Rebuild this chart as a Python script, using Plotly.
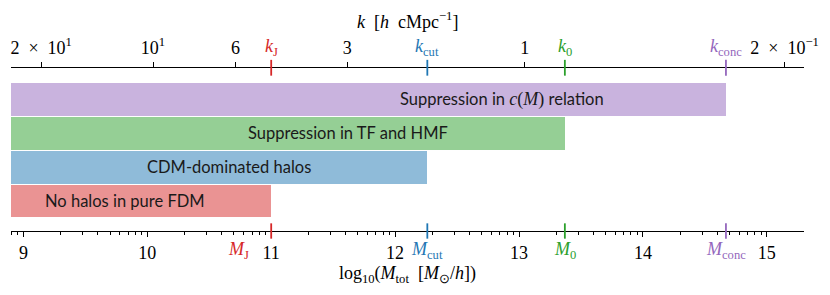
import numpy as np
import plotly.graph_objects as go

# ---- data ----
bar_labels = ["No halos in pure FDM", "CDM-dominated halos",
              "Suppression in TF and HMF",
              "Suppression in <span style='font-family:Liberation Serif;font-size:18px'><i>c</i>(<i>M</i>)</span> relation"]
bar_ends = [11.0, 12.26, 13.37, 14.67]          # log10(M_tot)
label_pos = [9.82, 10.66, 11.62, 12.86]
mass_names = ["J", "cut", "0", "conc"]
colors = ["#d62728", "#1f77b4", "#2ca02c", "#9467bd"]
fills = ["rgba(214,39,40,0.5)", "rgba(31,119,180,0.5)", "rgba(44,160,44,0.5)", "rgba(148,103,189,0.5)"]
mass_ticks = [9, 10, 11, 12, 13, 14, 15]
k_ticks = [20, 10, 6, 3, 1, 0.2]
k_ticktext = ["2\u2002×\u200210<sup>1</sup>", "10<sup>1</sup>", "6", "3", "1", "2\u2002×\u200210<sup>−1</sup>"]
logM_at_k1 = 13.046     # log10 M corresponding to k = 1 h/cMpc  (M ∝ k^-3)

xmin, xmax = 8.9, 15.3

def k_to_logM(k):
    return logM_at_k1 - 3 * np.log10(np.asarray(k, dtype=float))

SERIF = "Liberation Serif"
SANS = "Lato"

fig = go.Figure()
ys = list(range(len(bar_ends)))
fig.add_trace(go.Bar(
    y=ys, x=[e - xmin for e in bar_ends], base=xmin, orientation="h",
    width=0.97, marker=dict(color=fills, line=dict(width=0)),
    hoverinfo="skip", showlegend=False))

# invisible trace for top axis
fig.add_trace(go.Scatter(x=list(k_to_logM(k_ticks)), y=[0]*len(k_ticks), xaxis="x2",
                         mode="markers", marker=dict(opacity=0), showlegend=False, hoverinfo="skip"))

# minor ticks (log-spaced within decades)
minor = []
for d in range(8, 16):
    for n in range(2, 10):
        v = d + np.log10(n)
        if xmin <= v <= xmax:
            minor.append(v)

fig.update_layout(
    width=822, height=287,
    margin=dict(l=3, r=26, t=60, b=64, autoexpand=False),
    plot_bgcolor="white", paper_bgcolor="white",
    bargap=0,
    xaxis=dict(range=[xmin, xmax], tickvals=mass_ticks, ticktext=[str(t) for t in mass_ticks],
               ticks="outside", ticklen=5, tickwidth=1, tickcolor="black", automargin=False,
               showline=True, linecolor="black", linewidth=1.3, showgrid=False, zeroline=False,
               tickfont=dict(family=SERIF, size=18, color="black"),
               minor=dict(tickvals=minor, ticks="outside", ticklen=2.5, tickcolor="black", tickwidth=0.8),
               ticklabelstandoff=0),
    xaxis2=dict(range=[xmin, xmax], overlaying="x", side="top", anchor="y", automargin=False,
                tickvals=list(k_to_logM(k_ticks)), ticktext=k_ticktext,
                ticks="outside", ticklen=5, tickwidth=1, tickcolor="black",
                showline=True, linecolor="black", linewidth=1.3, showgrid=False, zeroline=False,
                tickfont=dict(family=SERIF, size=18, color="black"), ticklabelstandoff=1),
    yaxis=dict(range=[-0.884, 3.922], visible=False, fixedrange=True, automargin=False),
)

shapes = []
annotations = []
for m, c, name in zip(bar_ends, colors, mass_names):
    shapes.append(dict(type="line", xref="x", yref="paper", x0=m, x1=m, y0=-0.047, y1=0.047,
                       line=dict(color=c, width=1.8)))
    shapes.append(dict(type="line", xref="x", yref="paper", x0=m, x1=m, y0=0.953, y1=1.05,
                       line=dict(color=c, width=1.8)))
    lx = m - 0.26 if name == "J" else m
    annotations.append(dict(x=lx, y=0, xref="x", yref="paper", yanchor="middle", yshift=-19,
                            text=f"<i>M</i><sub>{name}</sub>", showarrow=False,
                            font=dict(family=SERIF, size=18, color=c)))
    annotations.append(dict(x=m, y=1, xref="x", yref="paper", yanchor="middle", yshift=21,
                            text=f"<i>k</i><sub>{name}</sub>", showarrow=False,
                            font=dict(family=SERIF, size=18, color=c)))

for y, lab, lp in zip(ys, bar_labels, label_pos):
    annotations.append(dict(x=lp, y=y, xref="x", yref="y", text=lab, showarrow=False,
                            font=dict(family=SANS, size=16.5, color="#1a1a1a")))

annotations.append(dict(x=0.5, y=1, xref="paper", yref="paper", yanchor="middle", yshift=48,
                        text="<i>k</i>  [<i>h</i>  cMpc<sup>−1</sup>]", showarrow=False,
                        font=dict(family=SERIF, size=18, color="black")))
annotations.append(dict(x=0.5, y=0, xref="paper", yref="paper", yanchor="middle", yshift=-43,
                        text="log<sub>10</sub>(<i>M</i><sub>tot</sub>  [<i>M</i><sub>⊙</sub>/<i>h</i>])",
                        showarrow=False, font=dict(family=SERIF, size=18, color="black")))

fig.update_layout(shapes=shapes, annotations=annotations)
fig.write_html("out.html")
